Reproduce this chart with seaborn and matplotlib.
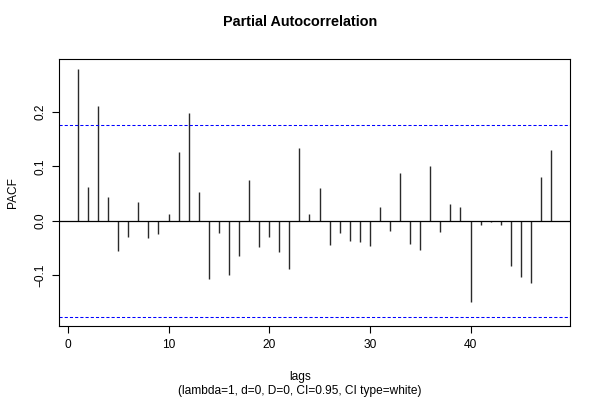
import numpy as np
import pandas as pd
import matplotlib
matplotlib.use("Agg")
import matplotlib.pyplot as plt
import seaborn as sns

lags = list(range(1, 49))
pacf = [0.279, 0.063, 0.211, 0.044, -0.055, -0.030, 0.035, -0.031, -0.024, 0.013,
        0.126, 0.198, 0.053, -0.107, -0.022, -0.100, -0.065, 0.075, -0.048, -0.029,
        -0.057, -0.089, 0.134, 0.013, 0.061, -0.044, -0.022, -0.036, -0.039, -0.046,
        0.026, -0.019, 0.087, -0.043, -0.053, 0.101, -0.021, 0.031, 0.026, -0.149,
        -0.008, -0.002, -0.007, -0.082, -0.102, -0.114, 0.081, 0.131]
ci = 0.1756
xticks = [0, 10, 20, 30, 40]
yticks = [-0.1, 0.0, 0.1, 0.2]
ytick_labels = ["\u22120.1", "0.0", "0.1", "0.2"]

df = pd.DataFrame({"lag": lags, "pacf": pacf})

sns.set_theme(style="white")
plt.rcParams["font.family"] = ["Liberation Sans", "DejaVu Sans"]
plt.rcParams["text.color"] = "black"
plt.rcParams["axes.labelcolor"] = "black"
plt.rcParams["xtick.color"] = "black"
plt.rcParams["ytick.color"] = "black"

fig = plt.figure(figsize=(6, 4), dpi=100)
ax = fig.add_axes([59/600, 1 - 326/400, (570 - 59)/600, (326 - 59)/400])

ax.vlines(df["lag"], 0, df["pacf"], color="#2a2a2a", linewidth=1.0)
ax.axhline(0, color="black", linewidth=0.9)
ax.axhline(ci, color="blue", linestyle=(0, (3.0, 2.0)), linewidth=0.75)
ax.axhline(-ci, color="blue", linestyle=(0, (3.0, 2.0)), linewidth=0.75)

ax.set_xlim(-0.88, 49.88)
ax.set_ylim(-0.1927, 0.297)
ax.set_xticks(xticks)
ax.set_xticklabels([str(t) for t in xticks], fontsize=8.6)
ax.set_yticks(yticks)
ax.set_yticklabels(ytick_labels, fontsize=8.6, rotation=90, va="center")
ax.tick_params(axis="both", direction="out", length=5, width=0.8, color="black",
               left=True, bottom=True, pad=4)
for s in ax.spines.values():
    s.set_visible(True)
    s.set_color("black")
    s.set_linewidth(0.8)

ax.set_ylabel("PACF", fontsize=8.6, labelpad=11)
fig.text(0.5, 1 - 22/400, "Partial Autocorrelation", ha="center", va="center",
         fontsize=10.4, fontweight="bold")
fig.text(0.5, 1 - 377/400, "lags", ha="center", va="center", fontsize=8.6)
fig.text(0.5, 1 - 391/400, "(lambda=1, d=0, D=0, CI=0.95, CI type=white)",
         ha="center", va="center", fontsize=8.6)

fig.savefig("out.png", dpi=100)
